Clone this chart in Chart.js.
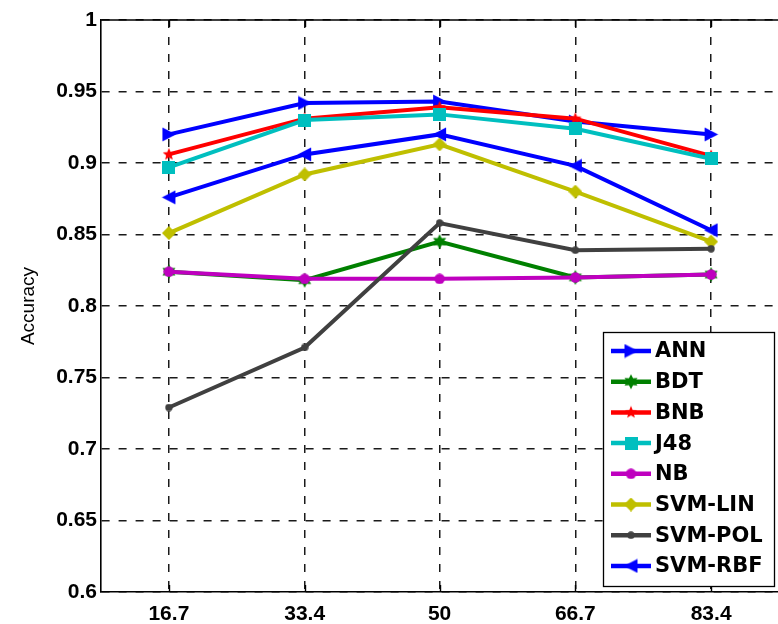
<!DOCTYPE html>
<html><head><meta charset="utf-8">
<script src="https://cdn.jsdelivr.net/npm/chart.js@4.4.0/dist/chart.umd.min.js"></script>
<style>
html,body{margin:0;padding:0;background:#fff;overflow:hidden}
#wrap{width:778px;height:624px;overflow:hidden;position:relative;background:#fff}
#c{position:absolute;left:0;top:0}
</style></head><body>
<div id="wrap"><canvas id="c" width="790" height="624"></canvas></div>
<script>
// ---- data ----
const xValues = [16.7, 33.4, 50, 66.7, 83.4];
const yTickValues = [0.6, 0.65, 0.7, 0.75, 0.8, 0.85, 0.9, 0.95, 1];
const yTickLabels = ['0.6', '0.65', '0.7', '0.75', '0.8', '0.85', '0.9', '0.95', '1'];
const seriesNames = ['ANN', 'BDT', 'BNB', 'J48', 'NB', 'SVM-LIN', 'SVM-POL', 'SVM-RBF'];
const ann    = [0.920, 0.942, 0.943, 0.929, 0.920];
const bdt    = [0.824, 0.818, 0.845, 0.820, 0.822];
const bnb    = [0.906, 0.931, 0.939, 0.931, 0.905];
const j48    = [0.897, 0.930, 0.934, 0.924, 0.903];
const nb     = [0.824, 0.819, 0.819, 0.820, 0.822];
const svmLin = [0.851, 0.892, 0.913, 0.880, 0.845];
const svmPol = [0.729, 0.771, 0.858, 0.839, 0.840];
const svmRbf = [0.876, 0.906, 0.920, 0.898, 0.853];
const seriesValues = [ann, bdt, bnb, j48, nb, svmLin, svmPol, svmRbf];

// ---- styles ----
const colors = ['#0000ff', '#008000', '#ff0000', '#00bfbf', '#bf00bf', '#bfbf00', '#404040', '#0000ff'];

function mk(size, draw) {
  const c = document.createElement('canvas');
  c.width = size; c.height = size;
  const g = c.getContext('2d');
  draw(g, size);
  return c;
}
function triRight(color, s) {
  return mk(s, (g, s) => { g.fillStyle = color; g.beginPath(); g.moveTo(1, 0.5); g.lineTo(s - 0.5, s / 2); g.lineTo(1, s - 0.5); g.closePath(); g.fill(); });
}
function triLeft(color, s) {
  return mk(s, (g, s) => { g.fillStyle = color; g.beginPath(); g.moveTo(s - 1, 0.5); g.lineTo(0.5, s / 2); g.lineTo(s - 1, s - 0.5); g.closePath(); g.fill(); });
}
function star(color, s, n, innerRatio) {
  return mk(s, (g, s) => {
    g.fillStyle = color; g.beginPath();
    const R = s / 2 - 0.5, r = R * innerRatio, c = s / 2;
    for (let i = 0; i < 2 * n; i++) {
      const a = -Math.PI / 2 + i * Math.PI / n;
      const rad = i % 2 === 0 ? R : r;
      const px = c + rad * Math.cos(a), py = c + rad * Math.sin(a);
      if (i === 0) g.moveTo(px, py); else g.lineTo(px, py);
    }
    g.closePath(); g.fill();
  });
}
function square(color, s) {
  return mk(s, (g, s) => { g.fillStyle = color; g.fillRect(0, 0, s, s); });
}
function circle(color, s) {
  return mk(s, (g, s) => { g.fillStyle = color; g.beginPath(); g.arc(s / 2, s / 2, s / 2 - 0.3, 0, Math.PI * 2); g.fill(); });
}
function diamond(color, s) {
  return mk(s, (g, s) => { g.fillStyle = color; g.beginPath(); g.moveTo(s / 2, 0); g.lineTo(s, s / 2); g.lineTo(s / 2, s); g.lineTo(0, s / 2); g.closePath(); g.fill(); });
}
const markers = [
  triRight(colors[0], 15),
  star(colors[1], 16, 6, 0.55),
  star(colors[2], 14, 5, 0.45),
  square(colors[3], 13),
  circle(colors[4], 11),
  diamond(colors[5], 14),
  circle(colors[6], 8),
  triLeft(colors[7], 15)
];

const datasets = seriesNames.map((name, i) => ({
  label: name,
  data: xValues.map((x, k) => ({ x: x, y: seriesValues[i][k] })),
  borderColor: colors[i],
  backgroundColor: colors[i],
  borderWidth: 4,
  pointStyle: markers[i],
  pointRadius: 7,
  pointHoverRadius: 7,
  tension: 0,
  order: seriesNames.length - i
}));

const frameAndLegend = {
  id: 'frameAndLegend',
  afterDatasetsDraw(chart) {
    const { ctx, chartArea: a, scales } = chart;
    ctx.save();
    ctx.strokeStyle = '#000';
    ctx.lineWidth = 1.6;
    ctx.setLineDash([]);
    ctx.beginPath();
    ctx.moveTo(a.left, a.top); ctx.lineTo(a.right, a.top);
    ctx.moveTo(a.right, a.top); ctx.lineTo(a.right, a.bottom);
    ctx.stroke();
    // inward x ticks
    ctx.lineWidth = 1.4;
    ctx.beginPath();
    xValues.forEach(v => {
      const px = Math.round(scales.x.getPixelForValue(v)) + 0.5;
      ctx.moveTo(px, a.top); ctx.lineTo(px, a.top + 7);
      ctx.moveTo(px, a.bottom); ctx.lineTo(px, a.bottom - 7);
    });
    ctx.stroke();

    // legend
    const bx = 603, by = 332, bw = 171, bh = 254;
    ctx.fillStyle = '#fff';
    ctx.fillRect(bx, by, bw, bh);
    ctx.strokeStyle = '#000';
    ctx.lineWidth = 1.3;
    ctx.strokeRect(bx + 0.5, by + 0.5, bw, bh);
    ctx.font = 'bold 21px "DejaVu Sans"';
    ctx.textBaseline = 'middle';
    ctx.textAlign = 'left';
    chart.data.datasets.forEach((ds, i) => {
      const y = 351 + i * 30.7;
      ctx.strokeStyle = ds.borderColor;
      ctx.lineWidth = 4.5;
      ctx.beginPath(); ctx.moveTo(611, y); ctx.lineTo(651, y); ctx.stroke();
      const m = ds.pointStyle;
      ctx.drawImage(m, 631 - m.width / 2, y - m.height / 2);
      ctx.fillStyle = '#000';
      ctx.fillText(ds.label, 655, y + 1);
    });
    ctx.restore();
  }
};

Chart.defaults.font.family = '"Liberation Sans", Arial, sans-serif';

new Chart(document.getElementById('c'), {
  type: 'line',
  data: { datasets: datasets },
  options: {
    responsive: false,
    animation: false,
    devicePixelRatio: 1,
    layout: { padding: { left: 0, top: 20, right: 8, bottom: 0 } },
    plugins: { legend: { display: false }, tooltip: { enabled: false } },
    scales: {
      x: {
        type: 'linear',
        min: 8.35,
        max: 91.75,
        afterBuildTicks: s => { s.ticks = xValues.map(v => ({ value: v })); },
        afterFit: s => { s.height = 32; },
        ticks: {
          color: '#000',
          font: { size: 21, weight: 'bold' },
          padding: 10,
          maxRotation: 0,
          autoSkip: false,
          callback: v => String(v)
        },
        grid: { color: '#1a1a1a', lineWidth: 1.5, drawTicks: false },
        border: { display: true, color: '#000', width: 1.6, dash: [8, 9] }
      },
      y: {
        min: 0.6,
        max: 1,
        afterBuildTicks: s => { s.ticks = yTickValues.map(v => ({ value: v })); },
        afterFit: s => { s.width = 101; },
        ticks: {
          color: '#000',
          font: { size: 21, weight: 'bold' },
          padding: 4,
          autoSkip: false,
          callback: (v) => yTickLabels[yTickValues.findIndex(t => Math.abs(t - v) < 1e-9)]
        },
        grid: { color: '#1a1a1a', lineWidth: 1.5, drawTicks: false },
        border: { display: true, color: '#000', width: 1.6, dash: [8, 9] },
        title: { display: true, text: 'Accuracy', color: '#000', font: { size: 19 }, padding: { top: 17, bottom: 0 } }
      }
    }
  },
  plugins: [frameAndLegend]
});
</script>
</body></html>
